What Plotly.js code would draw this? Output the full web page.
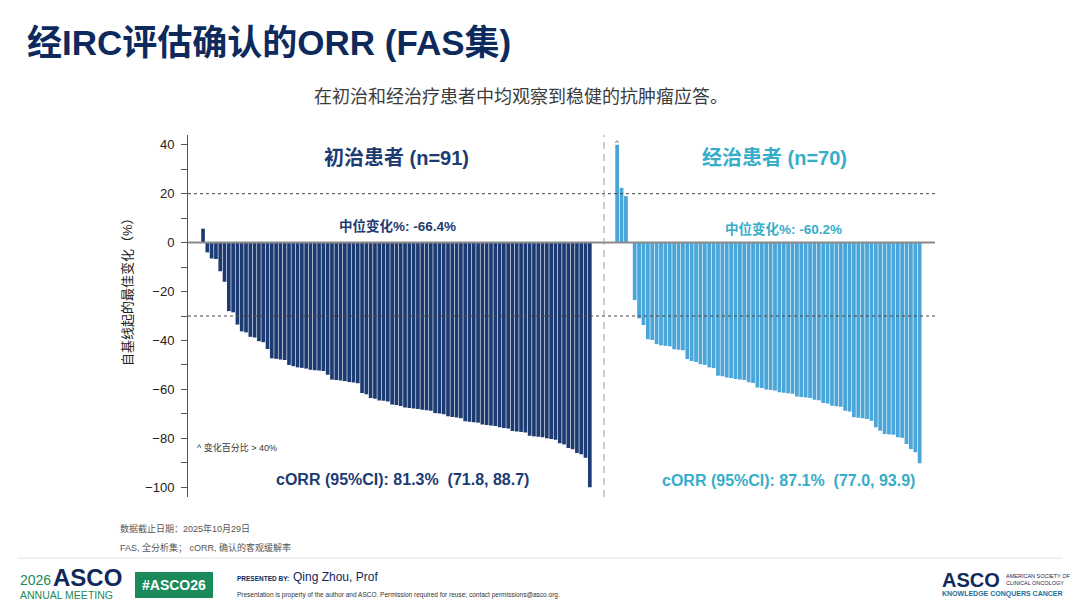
<!DOCTYPE html>
<html>
<head>
<meta charset="utf-8">
<script src="https://cdn.plot.ly/plotly-3.0.1.min.js"></script>
<style>
  html, body { margin: 0; padding: 0; background: #fff; }
  #chart { width: 1080px; height: 609px; }
</style>
</head>
<body>
<div id="chart"></div>
<script>
// best change from baseline (%), one bar per patient, sorted
const naiveValues = [
    5.7, -4, -6.5, -6.7, -11.7, -16, -28, -28.5, -33.5, -36.3,
    -36.7, -38.5, -38.8, -40.3, -40.7, -43.5, -47.3, -47.5, -47.8, -48,
    -50, -50.5, -51, -51.2, -51.5, -52, -52.2, -52.3, -52.5, -54,
    -56, -56.2, -56.4, -56.6, -57, -57.2, -57.5, -61.5, -62, -63.5,
    -63.8, -64.5, -64.7, -65, -66.2, -66.4, -66.8, -67.4, -67.6, -67.8,
    -68, -68.3, -68.5, -68.7, -69.7, -69.9, -70.2, -71, -71.3, -71.5,
    -71.8, -73, -73.2, -73.4, -73.6, -74.4, -74.6, -74.8, -75, -75.5,
    -75.8, -76, -77, -77.2, -77.4, -77.6, -79, -79.2, -79.4, -79.6,
    -80, -80.3, -80.6, -82, -82.5, -84, -84.5, -86, -86.5, -88,
    -100
];

const pretreatedValues = [
    40, 22.4, 19, 0, -23.5, -31, -33.7, -39.5, -39.8, -41.5,
    -42, -42.2, -42.4, -43.6, -43.8, -44, -47.6, -48.4, -48.8, -49.7,
    -50, -51, -51.3, -54.4, -54.6, -55.1, -55.3, -55.8, -56, -56.2,
    -57.1, -57.4, -59.2, -59.4, -60.1, -60.3, -60.5, -61.2, -61.4, -61.6,
    -61.8, -62.9, -63.1, -63.3, -63.5, -64.2, -64.4, -65.6, -65.8, -66.7,
    -66.9, -67.1, -68.7, -69, -71.4, -71.6, -71.8, -72.1, -72.8, -75.5,
    -76.9, -78.2, -78.4, -78.6, -79.6, -79.8, -82.3, -84.4, -85.7, -90.2
];

const yTickValues = [40, 20, 0, -20, -40, -60, -80, -100];
const responseThresholds = [20, -30];

const groupTitles = ["初治患者 (n=91)", "经治患者 (n=70)"];
const medianLabels = ["中位变化%: -66.4%", "中位变化%: -60.2%"];
const orrLabels = ["cORR (95%CI): 81.3%  (71.8, 88.7)", "cORR (95%CI): 87.1%  (77.0, 93.9)"];

const NAVY = "#1d3b73";
const BLUE = "#4aa6d8";
const TEAL = "#36adc9";
const GREEN = "#1b8a5a";
const FONT = '"Liberation Sans", Arial, "Noto Sans CJK SC", sans-serif';

// plot area in page pixels
const PLOT = { left: 188, right: 935, top: 135, bottom: 497 };
const DIVIDER = 604;

function px(x) {
    return (x - PLOT.left) / (PLOT.right - PLOT.left);
}

function py(y) {
    return (PLOT.bottom - y) / (PLOT.bottom - PLOT.top);
}

function label(text, x, y, size, colour, opts) {
    return {
        text: text,
        xref: "paper",
        yref: "paper",
        x: px(x),
        y: py(y),
        showarrow: false,
        xanchor: "center",
        yanchor: "middle",
        font: { family: FONT, size: size, color: colour },
        ...opts
    };
}

function indexList(values) {
    return values.map((_, i) => i + 1);
}

const traces = [
    {
        type: "bar",
        x: indexList(naiveValues),
        y: naiveValues,
        xaxis: "x",
        yaxis: "y",
        marker: { color: NAVY },
        hoverinfo: "skip"
    },
    {
        type: "bar",
        x: indexList(pretreatedValues),
        y: pretreatedValues,
        xaxis: "x2",
        yaxis: "y",
        marker: { color: BLUE },
        hoverinfo: "skip"
    }
];

const shapes = [
    ...responseThresholds.map((v) => ({
        type: "line",
        layer: "above",
        xref: "paper",
        yref: "y",
        x0: 0,
        x1: 1,
        y0: v,
        y1: v,
        line: { color: "#444", width: 1, dash: "3px,3px" }
    })),
    {
        type: "line",
        layer: "above",
        xref: "paper",
        yref: "y",
        x0: 0,
        x1: 1,
        y0: 0,
        y1: 0,
        line: { color: "#8a8a8a", width: 2 }
    },
    {
        type: "line",
        xref: "paper",
        yref: "paper",
        x0: px(DIVIDER),
        x1: px(DIVIDER),
        y0: 0,
        y1: 1,
        line: { color: "#9a9a9a", width: 1, dash: "7px,5px" }
    },
    // footer rule and #ASCO26 badge
    {
        type: "line",
        xref: "paper",
        yref: "paper",
        x0: px(18),
        x1: px(1062),
        y0: py(558),
        y1: py(558),
        line: { color: "#e2e2e2", width: 1 }
    },
    {
        type: "rect",
        xref: "paper",
        yref: "paper",
        x0: px(135),
        x1: px(213),
        y0: py(598),
        y1: py(572),
        fillcolor: GREEN,
        line: { width: 0 }
    }
];

const annotations = [
    label("<b>经IRC评估确认的ORR (FAS集)</b>", 25, 42, 35, "#0e2a5c", { xanchor: "left" }),
    label("在初治和经治疗患者中均观察到稳健的抗肿瘤应答。", 521, 97, 18, "#3c3c3c"),

    label("<b>" + groupTitles[0] + "</b>", 396, 158, 20, NAVY),
    label("<b>" + groupTitles[1] + "</b>", 774, 158, 20, TEAL),
    label("<b>" + medianLabels[0] + "</b>", 397, 226, 13.5, NAVY),
    label("<b>" + medianLabels[1] + "</b>", 783, 229, 13.5, TEAL),
    label("<b>" + orrLabels[0] + "</b>", 402, 479, 16, NAVY),
    label("<b>" + orrLabels[1] + "</b>", 788, 480, 16, TEAL),
    label("^ 变化百分比 > 40%", 195, 447, 9, "#333", { xanchor: "left" }),
    {
        text: "^",
        xref: "x2",
        yref: "y",
        x: 1,
        y: pretreatedValues[0],
        yanchor: "bottom",
        showarrow: false,
        yshift: -4,
        font: { family: FONT, size: 8, color: "#333" }
    },

    label("自基线起的最佳变化（%）", 127, 289, 13, "#222", { textangle: -90 }),

    label("数据截止日期：2025年10月29日", 118, 528, 9, "#555", { xanchor: "left" }),
    label("FAS, 全分析集； cORR, 确认的客观缓解率", 118, 547, 9, "#555", { xanchor: "left" }),

    label("2026", 18, 580, 14, GREEN, { xanchor: "left" }),
    label("<b>ASCO</b>", 51, 577, 24, "#13285a", { xanchor: "left" }),
    label("ANNUAL MEETING", 18, 595, 10.5, GREEN, { xanchor: "left" }),
    label("<b>#ASCO26</b>", 174, 585, 14, "#fff"),
    label("<b>PRESENTED BY:</b>", 235, 578, 6.5, "#13285a", { xanchor: "left" }),
    label("Qing Zhou, Prof", 291, 577, 12, "#13285a", { xanchor: "left" }),
    label("Presentation is property of the author and ASCO. Permission required for reuse; contact permissions@asco.org.",
        235, 595, 6.5, "#333", { xanchor: "left" }),

    label("<b>ASCO</b>", 940, 580, 20, "#13285a", { xanchor: "left" }),
    label("AMERICAN SOCIETY OF", 1004, 576, 5.5, "#13285a", { xanchor: "left" }),
    label("CLINICAL ONCOLOGY", 1004, 583, 5.5, "#13285a", { xanchor: "left" }),
    label("<b>KNOWLEDGE CONQUERS CANCER</b>", 940, 594, 7, "#1b6f99", { xanchor: "left" })
];

const layout = {
    width: 1080,
    height: 609,
    margin: { l: PLOT.left, r: 1080 - PLOT.right, t: PLOT.top, b: 609 - PLOT.bottom },
    paper_bgcolor: "#fff",
    plot_bgcolor: "#fff",
    showlegend: false,
    bargap: 0.14,
    font: { family: FONT, size: 13, color: "#222" },
    xaxis: {
        domain: [0, px(DIVIDER)],
        range: [-2.5, 94.3],
        visible: false,
        fixedrange: true
    },
    xaxis2: {
        domain: [px(DIVIDER), 1],
        range: [-2.0, 73.5],
        anchor: "y",
        visible: false,
        fixedrange: true
    },
    yaxis: {
        range: [-104, 44],
        tickvals: yTickValues,
        ticks: "outside",
        ticklen: 6,
        tickwidth: 1,
        tickcolor: "#555",
        showline: true,
        linecolor: "#555",
        linewidth: 1,
        showgrid: false,
        zeroline: false,
        ticklabelstandoff: 4,
        tickfont: { family: FONT, size: 13, color: "#222" },
        minor: { dtick: 10, ticks: "outside", ticklen: 6, tickcolor: "#555" }
    },
    shapes: shapes,
    annotations: annotations
};

Plotly.newPlot("chart", traces, layout, { displayModeBar: false, staticPlot: true });
</script>
</body>
</html>
